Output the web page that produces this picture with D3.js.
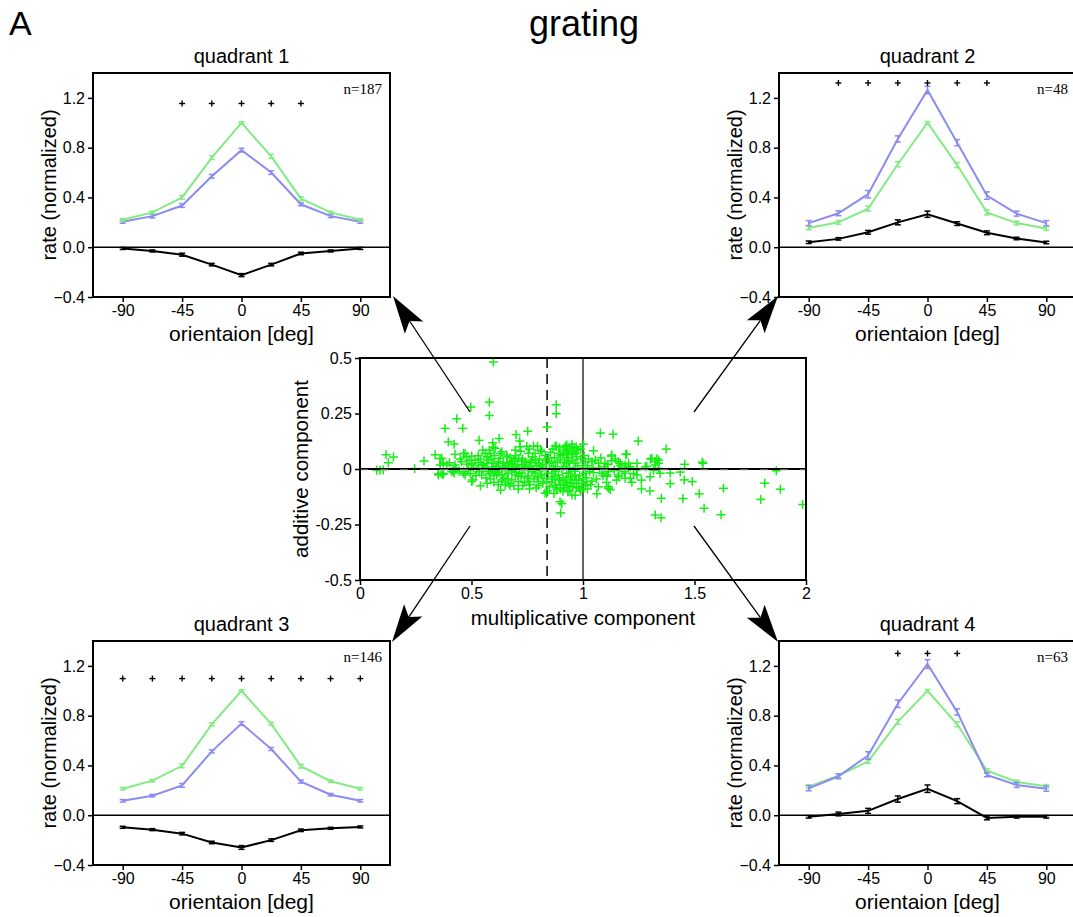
<!DOCTYPE html>
<html>
<head>
<meta charset="utf-8">
<script src="https://cdn.jsdelivr.net/npm/d3@7/dist/d3.min.js"></script>
<style>
  html, body { margin: 0; padding: 0; background: #fff; }
  svg { display: block; font-family: "Liberation Sans", Arial, sans-serif; }
</style>
</head>
<body>
<svg id="fig" width="1073" height="917"></svg>
<script>
// ---- shared axis data ----
const orientations = [-90, -67.5, -45, -22.5, 0, 22.5, 45, 67.5, 90];
const orientTicks = [-90, -45, 0, 45, 90];
const rateTicks = [-0.4, 0.0, 0.4, 0.8, 1.2];
const multTicks = [0, 0.5, 1, 1.5, 2];
const addTicks = [-0.5, -0.25, 0, 0.25, 0.5];

// ---- quadrant 1 (n=187) ----
const q1Green = [0.22, 0.28, 0.40, 0.72, 1.00, 0.73, 0.39, 0.28, 0.22];
const q1GreenErr = [0.01, 0.01, 0.015, 0.015, 0.008, 0.015, 0.015, 0.01, 0.01];
const q1Blue = [0.205, 0.25, 0.335, 0.57, 0.78, 0.60, 0.345, 0.25, 0.205];
const q1BlueErr = [0.012, 0.015, 0.015, 0.015, 0.015, 0.015, 0.012, 0.012, 0.012];
const q1Black = [-0.01, -0.03, -0.06, -0.14, -0.224, -0.14, -0.05, -0.03, -0.01];
const q1BlackErr = [0.008, 0.008, 0.012, 0.01, 0.012, 0.01, 0.01, 0.008, 0.008];
const q1Signif = [-45, -22.5, 0, 22.5, 45];
const q1SignifLevel = 1.155;

// ---- quadrant 2 (n=48) ----
const q2Green = [0.154, 0.20, 0.31, 0.667, 1.00, 0.66, 0.28, 0.194, 0.15];
const q2GreenErr = [0.015, 0.015, 0.02, 0.02, 0.01, 0.02, 0.02, 0.015, 0.015];
const q2Blue = [0.194, 0.273, 0.426, 0.87, 1.263, 0.84, 0.415, 0.27, 0.194];
const q2BlueErr = [0.02, 0.02, 0.03, 0.025, 0.03, 0.025, 0.03, 0.02, 0.02];
const q2Black = [0.04, 0.067, 0.12, 0.20, 0.265, 0.19, 0.116, 0.07, 0.038];
const q2BlackErr = [0.01, 0.01, 0.015, 0.02, 0.025, 0.015, 0.015, 0.01, 0.01];
const q2Signif = [-67.5, -45, -22.5, 0, 22.5, 45];
const q2SignifLevel = 1.32;

// ---- quadrant 3 (n=146) ----
const q3Green = [0.213, 0.278, 0.397, 0.73, 1.00, 0.734, 0.394, 0.273, 0.213];
const q3GreenErr = [0.01, 0.01, 0.015, 0.012, 0.008, 0.012, 0.015, 0.01, 0.01];
const q3Blue = [0.116, 0.157, 0.24, 0.513, 0.737, 0.532, 0.27, 0.165, 0.116];
const q3BlueErr = [0.01, 0.01, 0.015, 0.012, 0.015, 0.012, 0.012, 0.01, 0.01];
const q3Black = [-0.097, -0.116, -0.148, -0.219, -0.259, -0.20, -0.121, -0.105, -0.094];
const q3BlackErr = [0.008, 0.008, 0.01, 0.01, 0.015, 0.01, 0.01, 0.008, 0.008];
const q3Signif = [-90, -67.5, -45, -22.5, 0, 22.5, 45, 67.5, 90];
const q3SignifLevel = 1.098;

// ---- quadrant 4 (n=63) ----
const q4Green = [0.23, 0.318, 0.432, 0.75, 1.00, 0.731, 0.359, 0.267, 0.232];
const q4GreenErr = [0.015, 0.015, 0.015, 0.02, 0.01, 0.02, 0.015, 0.015, 0.015];
const q4Blue = [0.216, 0.313, 0.48, 0.896, 1.215, 0.83, 0.324, 0.243, 0.213];
const q4BlueErr = [0.02, 0.02, 0.03, 0.03, 0.035, 0.025, 0.015, 0.02, 0.02];
const q4Black = [-0.013, 0.01, 0.035, 0.13, 0.213, 0.113, -0.022, -0.013, -0.013];
const q4BlackErr = [0.01, 0.015, 0.02, 0.025, 0.03, 0.02, 0.015, 0.01, 0.01];
const q4Signif = [-22.5, 0, 22.5];
const q4SignifLevel = 1.30;

// ---- population: [multiplicative, additive] per cell ----
const cells = [
  [0.598,0.482],[0.497,0.279],[0.580,0.301],[0.580,0.241],[0.880,0.289],[0.880,0.249],[0.839,0.189],
  [0.434,0.226],[0.381,0.183],[0.461,0.183],[0.396,0.122],[0.422,0.112],[0.534,0.129],[0.595,0.118],
  [0.624,0.137],[0.700,0.155],[0.752,0.170],[0.716,0.126],[0.718,0.100],[0.748,0.102],[0.880,0.102],
  [0.920,0.103],[0.950,0.112],[1.002,0.112],[1.047,0.082],[1.078,0.162],[1.135,0.157],[1.248,0.126],
  [1.373,0.090],[1.196,0.066],[1.127,0.058],[1.535,0.031],[1.538,0.025],[1.456,0.021],[1.331,0.046],
  [1.302,0.045],[1.339,0.026],
  [0.117,0.064],[0.150,0.054],[0.127,0.028],[0.075,-0.005],[0.104,-0.004],[0.090,-0.006],[0.245,0.002],
  [0.287,0.036],[0.337,0.064],[0.359,0.047],[0.352,-0.027],[0.371,-0.025],[0.422,-0.018],[0.471,-0.027],
  [0.501,-0.056],[0.540,-0.076],[0.630,-0.095],[0.673,-0.076],[0.830,-0.108],[0.841,-0.099],[0.905,-0.156],
  [0.900,-0.198],[0.965,-0.118],[1.062,-0.112],[1.122,-0.094],[1.107,-0.033],[1.262,-0.090],[1.300,-0.099],
  [1.324,-0.207],[1.350,-0.220],[1.351,-0.132],[1.391,-0.018],[1.391,-0.066],[1.436,-0.014],[1.448,-0.133],
  [1.454,-0.049],[1.490,-0.057],[1.521,-0.112],[1.543,-0.177],[1.619,-0.206],[1.630,-0.087],[1.797,-0.137],
  [1.815,-0.064],[1.867,-0.008],[1.885,-0.091],[1.985,-0.160],
  [1.262,-0.050],[1.227,-0.021],[1.204,0.009],[1.167,0.016],[1.286,0.012],[1.316,-0.006],[1.192,0.067],
  [1.159,0.033],[1.189,0.018],[1.212,0.010],[1.242,0.026],[1.242,-0.004],[1.279,0.010],[1.309,0.048],
  [1.324,0.033],[1.339,0.040],[1.324,0.018],[1.339,0.003],[1.107,-0.027],[1.114,-0.080],[1.159,-0.035],
  [1.159,-0.004],[1.189,-0.019],[1.212,-0.042],[1.219,-0.060],[1.242,-0.027],[1.301,-0.035],[1.346,-0.019],
  [0.367,0.048],[0.426,0.066],[0.471,0.070],[0.501,0.058],[0.561,0.070],[0.580,0.085],[0.598,0.098],
  [0.636,0.078],[0.658,0.063],[0.374,0.026],[0.401,0.028],[0.426,0.018],[0.456,0.033],[0.479,0.022],
  [0.501,0.026],[0.531,0.028],[0.553,0.018],[0.576,0.040],[0.598,0.026],[0.621,0.033],[0.643,0.026],
  [0.351,-0.022],[0.374,-0.022],[0.419,-0.012],[0.464,-0.019],[0.506,-0.049],[0.613,-0.027],[0.636,-0.049],
  [0.651,-0.072],[0.591,-0.004],[0.553,-0.004],[0.524,-0.001],[0.359,0.018],[0.389,0.018],[0.411,-0.012],
  [0.464,0.070],[0.479,0.055],[0.583,0.070],[0.606,0.093],[0.628,0.048],[0.546,-0.027],[0.583,-0.019],
  [0.606,-0.012],[0.636,-0.027],[0.636,-0.057],[0.569,0.026],[0.591,0.010],[0.546,0.018],[0.501,0.018],
  [0.464,-0.012],[0.419,-0.004],[0.363,-0.019],
  [0.696,0.085],[0.755,0.070],[0.778,0.103],[0.796,0.103],[0.785,0.070],[0.815,0.078],[0.875,0.103],
  [0.890,0.070],[0.658,0.055],[0.681,0.033],[0.711,0.048],[0.740,0.033],[0.771,0.040],[0.800,0.026],
  [0.830,0.040],[0.860,0.033],[0.897,0.040],[0.927,0.026],[0.665,0.018],[0.696,0.013],[0.726,0.018],
  [0.763,0.013],[0.815,0.010],[0.875,0.010],[0.912,0.010],[0.665,-0.019],[0.696,-0.027],[0.726,-0.019],
  [0.755,-0.031],[0.785,-0.019],[0.815,-0.027],[0.860,-0.019],[0.890,-0.027],[0.927,-0.019],[0.681,-0.049],
  [0.711,-0.057],[0.755,-0.057],[0.800,-0.057],[0.838,-0.057],[0.875,-0.072],[0.912,-0.072],[0.883,-0.094],
  [0.932,-0.102],[0.897,-0.147],[0.838,-0.109],
  [0.927,0.108],[0.935,0.070],[0.957,0.078],[0.972,0.055],[1.010,0.033],[1.040,0.033],[1.069,0.026],
  [1.099,0.026],[1.129,0.037],[1.167,0.026],[1.204,0.026],[0.935,0.033],[0.965,0.026],[0.935,-0.019],
  [0.965,-0.027],[1.010,-0.019],[1.047,-0.016],[1.085,-0.019],[1.114,-0.012],[1.159,-0.027],[1.189,-0.042],
  [0.942,-0.064],[0.980,-0.080],[1.017,-0.057],[1.069,-0.080],[1.114,-0.087],[0.950,-0.117],[0.987,-0.091],
  [1.129,0.063],
  [0.560,0.005],[0.575,-0.010],[0.610,0.005],[0.620,-0.015],[0.650,0.008],[0.655,-0.005],[0.672,0.025],
  [0.680,-0.008],[0.690,0.040],[0.700,-0.015],[0.705,0.020],[0.715,0.005],[0.722,-0.035],[0.730,0.045],
  [0.735,-0.005],[0.745,0.022],[0.750,-0.040],[0.758,0.005],[0.765,0.030],[0.770,-0.012],[0.775,0.055],
  [0.780,0.000],[0.790,0.015],[0.795,-0.035],[0.805,0.045],[0.808,-0.008],[0.820,0.020],[0.825,-0.042],
  [0.832,0.060],[0.835,0.002],[0.845,-0.020],[0.850,0.025],[0.855,0.075],[0.862,-0.045],[0.868,0.012],
  [0.872,0.050],[0.878,-0.010],[0.885,0.030],[0.893,-0.050],[0.900,0.060],[0.905,0.000],[0.910,-0.040],
  [0.915,0.085],[0.918,0.030],[0.925,-0.060],[0.930,0.050],[0.938,0.090],[0.940,0.005],[0.945,-0.035],
  [0.948,0.065],[0.952,-0.080],[0.955,0.040],[0.960,0.095],[0.962,-0.010],[0.968,0.070],[0.970,-0.050],
  [0.975,0.015],[0.978,0.085],[0.985,-0.030],[0.990,0.045],[0.995,-0.065],[1.000,0.005],[1.005,0.060],
  [1.015,-0.040],[1.020,0.015],[1.025,0.045],[1.030,-0.010],[1.035,-0.070],[1.045,0.005],[1.055,0.040],
  [1.060,-0.045],[1.075,0.000],[1.080,0.050],[1.090,-0.030],[1.095,0.010],[1.105,-0.060],[1.110,0.020],
  [1.140,-0.005],[1.145,0.045],[1.150,-0.050],[1.175,0.005],[1.185,-0.010],
  [0.430,0.005],[0.445,-0.010],[0.450,0.045],[0.485,-0.005],[0.490,0.040],[0.495,-0.020],[0.510,0.005],
  [0.515,0.040],[0.520,-0.030],[0.530,0.060],[0.535,-0.012],[0.540,0.045],[0.550,0.085],[0.565,-0.040],
  [0.570,0.055],[0.585,-0.045],[0.590,0.045],[0.600,-0.030],[0.603,0.060],[0.615,0.015],[0.625,-0.005],
  [0.630,0.070],[0.640,0.005],[0.645,-0.040],[0.660,0.030],[0.668,-0.065],[0.675,0.050],[0.685,0.005],
  [0.690,-0.075],[0.698,0.060],[0.708,-0.030],[0.720,0.080],[0.725,0.035],[0.738,-0.060],[0.742,0.010],
  [0.760,0.090],[0.762,-0.070],[0.785,0.040],[0.790,-0.085],[0.810,0.085],[0.820,-0.065],[0.845,0.050],
  [0.850,-0.080],[0.865,0.090],[0.870,-0.110],[0.895,0.095],[0.898,-0.090],[0.918,-0.085],[0.925,0.070],
  [0.860,-0.060],[0.870,-0.035],[0.880,-0.085],[0.890,-0.045],[0.900,-0.070],[0.910,-0.100],[0.920,-0.050],
  [0.930,-0.075],[0.940,-0.095],[0.950,-0.045],[0.960,-0.065],[0.970,-0.085],[0.980,-0.050],[0.990,-0.100],
  [1.000,-0.045],[1.010,-0.075],[1.020,-0.090],[1.040,-0.055],[0.800,-0.075],[0.780,-0.045],[0.760,-0.090],
  [0.730,-0.075],[0.710,-0.090],[0.660,-0.045],[0.620,-0.070],[0.600,-0.060],[0.570,-0.065],[0.930,0.080],
  [0.950,0.100],[0.970,0.100],[0.990,0.090],[0.910,0.065]
];
const medianMult = 0.839;

// ---- colours ----
const COL_GREEN = "#84ea84";
const COL_BLUE = "#8c8cf0";
const COL_BLACK = "#000";
const COL_CELL = "#14ee14";

const svg = d3.select("#fig");
svg.append("rect").attr("width", 1073).attr("height", 917).attr("fill", "#fff");

// Figure label and title
svg.append("text").attr("x", 9).attr("y", 35).attr("font-size", 34).text("A");
svg.append("text").attr("x", 584).attr("y", 36).attr("text-anchor", "middle")
  .attr("font-size", 36).text("grating");

// ---- one tuning panel ----
function drawPanel(p) {
  const x = d3.scaleLinear().domain([-112.5, 112.5]).range([p.left, p.left + 297]);
  const y = d3.scaleLinear().domain([-0.4, 1.4]).range([p.top + 224, p.top]);
  const g = svg.append("g");

  // axes
  const yAxis = d3.axisLeft(y).tickValues(rateTicks).tickFormat(d3.format(".1f")).tickSize(5).tickPadding(3);
  const xAxis = d3.axisBottom(x).tickValues(orientTicks).tickFormat(d => d).tickSize(5).tickPadding(3);
  const ya = g.append("g").attr("transform", `translate(${p.left},0)`).call(yAxis);
  const xa = g.append("g").attr("transform", `translate(0,${p.top + 224})`).call(xAxis);
  [ya, xa].forEach(a => {
    a.select(".domain").remove();
    a.selectAll(".tick line").attr("stroke", "#000").attr("stroke-width", 1.5);
    a.selectAll(".tick text").attr("font-size", 16).attr("fill", "#000")
      .attr("font-family", "Liberation Sans, Arial, sans-serif");
  });

  // frame
  g.append("rect").attr("x", p.left).attr("y", p.top).attr("width", 297).attr("height", 224)
    .attr("fill", "none").attr("stroke", "#000").attr("stroke-width", 2);

  // zero line
  g.append("line").attr("x1", p.left).attr("x2", p.left + 297)
    .attr("y1", y(0)).attr("y2", y(0)).attr("stroke", "#000").attr("stroke-width", 1.5);

  const line = d3.line().x((d, i) => x(orientations[i])).y(d => y(d));
  function series(vals, errs, col) {
    g.append("path").datum(vals).attr("d", line).attr("fill", "none")
      .attr("stroke", col).attr("stroke-width", 2);
    const eb = g.append("g").attr("stroke", col).attr("stroke-width", 1.5);
    vals.forEach((v, i) => {
      const cx = x(orientations[i]);
      const lo = y(v - errs[i]), hi = y(v + errs[i]);
      eb.append("line").attr("x1", cx).attr("x2", cx).attr("y1", lo).attr("y2", hi);
      eb.append("line").attr("x1", cx - 3).attr("x2", cx + 3).attr("y1", lo).attr("y2", lo);
      eb.append("line").attr("x1", cx - 3).attr("x2", cx + 3).attr("y1", hi).attr("y2", hi);
    });
  }
  p.order.forEach(s => series(s[0], s[1], s[2]));

  // significance markers
  const sm = g.append("g").attr("stroke", "#000").attr("stroke-width", 1.4);
  p.signif.forEach(o => {
    const cx = x(o), cy = y(p.signifLevel);
    sm.append("line").attr("x1", cx - 3).attr("x2", cx + 3).attr("y1", cy).attr("y2", cy);
    sm.append("line").attr("x1", cx).attr("x2", cx).attr("y1", cy - 3).attr("y2", cy + 3);
  });

  // n label
  g.append("text").attr("x", p.left + 289).attr("y", p.top + 21).attr("text-anchor", "end")
    .attr("font-family", "Liberation Serif, Times New Roman, serif").attr("font-size", 15)
    .text(p.n);

  // title and axis labels
  g.append("text").attr("x", x(0)).attr("y", p.top - 10).attr("text-anchor", "middle")
    .attr("font-size", 20).text(p.title);
  g.append("text").attr("x", x(0)).attr("y", p.top + 268).attr("text-anchor", "middle")
    .attr("font-size", 21).text("orientaion [deg]");
  g.append("text").attr("transform", `translate(${p.left - 37},${p.top + 112}) rotate(-90)`)
    .attr("text-anchor", "middle").attr("font-size", 20).text("rate (normalized)");
}

drawPanel({ left: 93, top: 73, title: "quadrant 1", n: "n=187",
  signif: q1Signif, signifLevel: q1SignifLevel,
  order: [[q1Black, q1BlackErr, COL_BLACK], [q1Blue, q1BlueErr, COL_BLUE], [q1Green, q1GreenErr, COL_GREEN]] });
drawPanel({ left: 779, top: 73, title: "quadrant 2", n: "n=48",
  signif: q2Signif, signifLevel: q2SignifLevel,
  order: [[q2Black, q2BlackErr, COL_BLACK], [q2Green, q2GreenErr, COL_GREEN], [q2Blue, q2BlueErr, COL_BLUE]] });
drawPanel({ left: 93, top: 641, title: "quadrant 3", n: "n=146",
  signif: q3Signif, signifLevel: q3SignifLevel,
  order: [[q3Black, q3BlackErr, COL_BLACK], [q3Blue, q3BlueErr, COL_BLUE], [q3Green, q3GreenErr, COL_GREEN]] });
drawPanel({ left: 779, top: 641, title: "quadrant 4", n: "n=63",
  signif: q4Signif, signifLevel: q4SignifLevel,
  order: [[q4Black, q4BlackErr, COL_BLACK], [q4Green, q4GreenErr, COL_GREEN], [q4Blue, q4BlueErr, COL_BLUE]] });

// ---- central scatter ----
(function () {
  const L = 360, T = 358, W = 446, H = 222;
  const x = d3.scaleLinear().domain([0, 2]).range([L, L + W]);
  const y = d3.scaleLinear().domain([-0.5, 0.5]).range([T + H, T]);
  const g = svg.append("g");

  const yAxis = d3.axisLeft(y).tickValues(addTicks).tickFormat(d => d).tickSize(5).tickPadding(3);
  const xAxis = d3.axisBottom(x).tickValues(multTicks).tickFormat(d => d).tickSize(5).tickPadding(3);
  const ya = g.append("g").attr("transform", `translate(${L},0)`).call(yAxis);
  const xa = g.append("g").attr("transform", `translate(0,${T + H})`).call(xAxis);
  [ya, xa].forEach(a => {
    a.select(".domain").remove();
    a.selectAll(".tick line").attr("stroke", "#000").attr("stroke-width", 1.5);
    a.selectAll(".tick text").attr("font-size", 16).attr("fill", "#000")
      .attr("font-family", "Liberation Sans, Arial, sans-serif");
  });

  // reference lines
  g.append("line").attr("x1", x(1)).attr("x2", x(1)).attr("y1", T).attr("y2", T + H)
    .attr("stroke", "#000").attr("stroke-width", 1.2);
  g.append("line").attr("x1", x(medianMult)).attr("x2", x(medianMult)).attr("y1", T).attr("y2", T + H)
    .attr("stroke", "#000").attr("stroke-width", 1.5).attr("stroke-dasharray", "10,6");

  // cells
  const cg = g.append("g").attr("stroke", COL_CELL).attr("stroke-width", 1.5);
  cells.forEach(c => {
    const cx = x(c[0]), cy = y(c[1]);
    cg.append("line").attr("x1", cx - 4.5).attr("x2", cx + 4.5).attr("y1", cy).attr("y2", cy);
    cg.append("line").attr("x1", cx).attr("x2", cx).attr("y1", cy - 4.5).attr("y2", cy + 4.5);
  });

  // zero line (solid with light dashes along it)
  g.append("line").attr("x1", L).attr("x2", L + W).attr("y1", y(0)).attr("y2", y(0))
    .attr("stroke", "#000").attr("stroke-width", 2);
  g.append("line").attr("x1", L).attr("x2", L + W).attr("y1", y(0) + 1).attr("y2", y(0) + 1)
    .attr("stroke", "#c8c8c8").attr("stroke-width", 1).attr("stroke-dasharray", "8,12");

  g.append("rect").attr("x", L).attr("y", T).attr("width", W).attr("height", H)
    .attr("fill", "none").attr("stroke", "#000").attr("stroke-width", 2);

  g.append("text").attr("x", x(1)).attr("y", 625).attr("text-anchor", "middle")
    .attr("font-size", 20.5).text("multiplicative component");
  g.append("text").attr("transform", `translate(${L - 52},${y(0)}) rotate(-90)`)
    .attr("text-anchor", "middle").attr("font-size", 20.5).text("additive component");
})();

// ---- arrows linking quadrants to panels ----
const arrows = [
  [[470, 412], [393, 296]],
  [[694, 412], [778, 296]],
  [[470, 526], [392, 642]],
  [[694, 526], [778, 642]]
];
arrows.forEach(a => {
  const [s, t] = a;
  const dx = t[0] - s[0], dy = t[1] - s[1];
  const len = Math.hypot(dx, dy), ux = dx / len, uy = dy / len;
  const px = -uy, py = ux;
  const headLen = 38, halfW = 11, notch = 8;
  const bx = t[0] - ux * headLen, by = t[1] - uy * headLen;
  svg.append("line").attr("x1", s[0]).attr("y1", s[1])
    .attr("x2", t[0] - ux * (headLen - notch)).attr("y2", t[1] - uy * (headLen - notch))
    .attr("stroke", "#000").attr("stroke-width", 1.3);
  const pts = [
    [t[0], t[1]],
    [bx + px * halfW, by + py * halfW],
    [t[0] - ux * (headLen - notch), t[1] - uy * (headLen - notch)],
    [bx - px * halfW, by - py * halfW]
  ];
  svg.append("path").attr("d", "M" + pts.map(p => p.join(",")).join("L") + "Z").attr("fill", "#000");
});
</script>
</body>
</html>
